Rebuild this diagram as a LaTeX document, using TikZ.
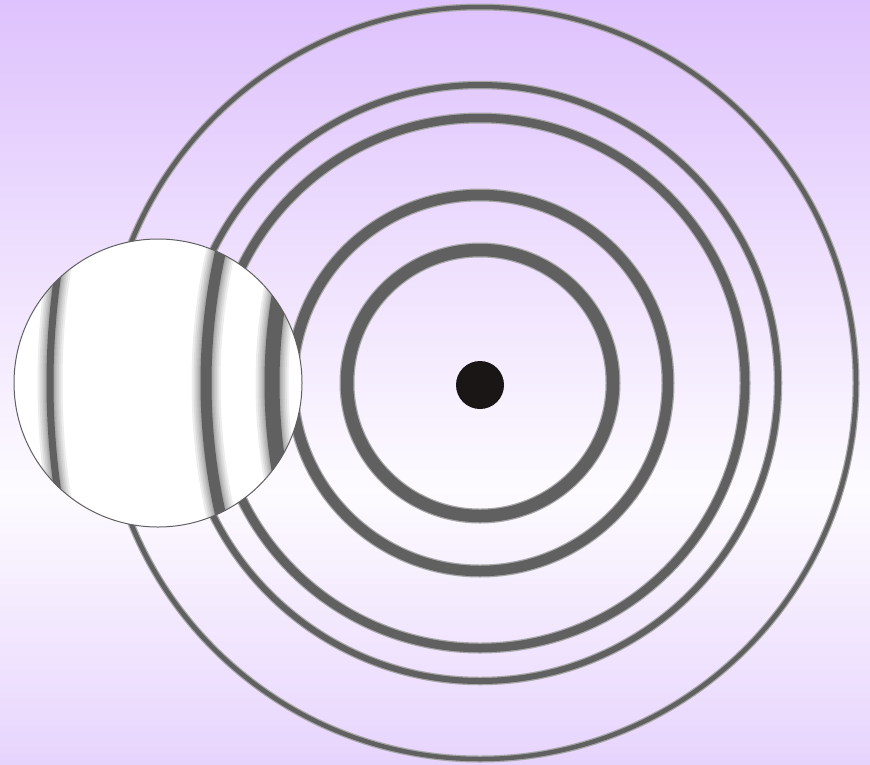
\documentclass[tikz,border=0pt]{standalone}
\definecolor{ringc}{HTML}{606060}
\definecolor{haloc}{HTML}{A8A8A8}
\definecolor{dotc}{HTML}{1A1616}
\definecolor{bgtop}{HTML}{DEC2FD}
\definecolor{bgmid}{HTML}{FDFBFF}
\definecolor{bgbot}{HTML}{E7D4FD}
\tikzset{
  ringhalo/.style={draw=haloc},
  ringcore/.style={draw=ringc},
  lensblur/.style={draw=ringc, draw opacity=0.11},
  lenscore/.style={draw=ringc},
}
\begin{document}
\begin{tikzpicture}[x=1pt,y=-1pt]
\useasboundingbox (0,0) rectangle (870,764);
% background gradient
\shade[top color=bgtop,bottom color=bgmid] (0,0) rectangle (870,491);
\shade[top color=bgmid,bottom color=bgbot] (0,490) rectangle (870,764);
% centres
\coordinate (C) at (480,383);
\coordinate (D) at (480,385);
\coordinate (M) at (158,383);
\coordinate (MC) at (802,383);
% rings
\foreach \r/\w in {376/4.5,298/6,265/8.5,188/10.5,133/12.5} {
  \draw[ringhalo, line width={(\w+2.5)*1pt}] (C) circle[radius=\r];
  \draw[ringcore, line width={\w*1pt}] (C) circle[radius=\r];
}
% central dot
\fill[dotc] (D) circle[radius=24];
% magnifier
\begin{scope}
  \clip (M) circle[radius=144];
  \fill[white] (M) circle[radius=144];
  \foreach \r/\w in {752/7,596/11,530/15} {
    \foreach \e in {18,14,10.5,7.5,5,3,1.5} {
      \draw[lensblur, line width={(\w+\e)*1pt}] (MC) circle[radius=\r];
    }
    \draw[lenscore, line width={\w*1pt}] (MC) circle[radius=\r];
  }
\end{scope}
\draw[ringc, line width=1pt] (M) circle[radius=144];
\end{tikzpicture}
\end{document}
